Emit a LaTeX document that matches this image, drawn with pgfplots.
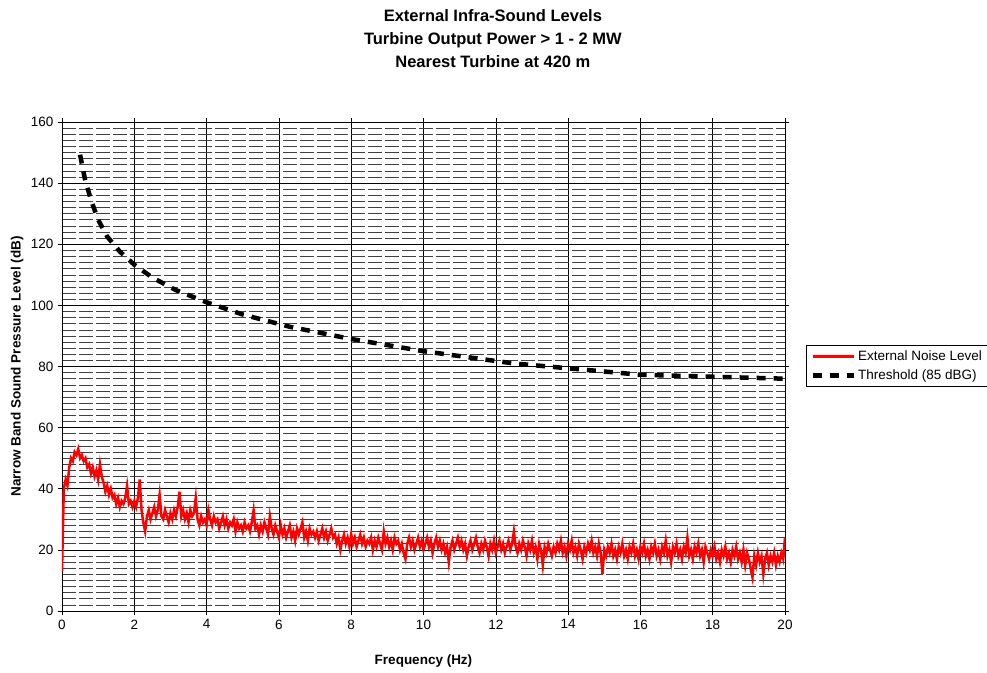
\documentclass[border=0pt]{standalone}
\usepackage{fontspec}
\setmainfont{Liberation Sans}
\usepackage{pgfplots}
\pgfplotsset{compat=1.18}

\begin{document}
\fontsize{13.5}{16}\selectfont
\begin{tikzpicture}
\begin{axis}[
    scale only axis,
    width=723pt, height=489pt,
    xmin=0, xmax=20, ymin=0, ymax=160,
    xtick={0,2,...,20}, ytick={0,20,...,160},
    minor ytick={2,4,...,158},
    grid=both,
    major grid style={black, line width=0.6pt},
    minor grid style={black!75, line width=0.6pt, dash pattern=on 14pt off 3pt},
    axis line style={black, line width=0.8pt},
    tick align=outside, major tick length=4pt, minor tick length=0pt,
    tick style={black, line width=0.6pt},
    /pgf/number format/assume math mode=true,
    ticklabel style={font=\fontsize{13.5}{16}\selectfont},
    xlabel={\textbf{Frequency (Hz)}},
    ylabel={\textbf{Narrow Band Sound Pressure Level (dB)}},
    xlabel style={at={(axis description cs:0.5,-0.102)}, anchor=center},
    ylabel style={at={(axis description cs:-0.062,0.5)}, anchor=center},
    title={\textbf{External Infra-Sound Levels}\\\textbf{Turbine Output Power > 1 - 2 MW}\\\textbf{Nearest Turbine at 420 m}},
    title style={align=center, font=\fontsize{16.5}{23}\selectfont, at={(axis description cs:0.596,1.159)}, anchor=center},
    legend style={at={(axis description cs:1.029,0.501)}, anchor=west, draw=black, line width=0.6pt,
        font=\fontsize{13.5}{16}\selectfont, row sep=3pt, inner xsep=4pt, inner ysep=3pt},
    legend cell align=left,
    legend image code/.code={\draw[#1] (0cm,0cm) -- (1.45cm,0cm);},
]
\addplot[red, line width=2.5pt] coordinates {
(0,13) (0.05,40) (0.1,43) (0.15,41) (0.2,47) (0.25,50) (0.3,49) (0.35,52) (0.4,51) (0.45,53)
(0.5,50) (0.55,51) (0.6,49) (0.65,50) (0.7,47) (0.75,48) (0.8,45) (0.85,47) (0.9,44) (0.95,46)
(1.0,43) (1.05,48) (1.1,44) (1.15,42) (1.2,39) (1.25,41) (1.3,38) (1.35,40) (1.4,37) (1.45,38)
(1.5,35) (1.55,37) (1.6,34) (1.65,36) (1.7,35) (1.75,37) (1.8,41) (1.85,35) (1.9,36) (1.95,34)
(2.0,36) (2.05,34) (2.1,37) (2.15,43) (2.2,33) (2.25,29) (2.3,26) (2.35,31) (2.4,33) (2.45,30)
(2.5,32) (2.55,34) (2.6,31) (2.65,33) (2.7,38) (2.75,31) (2.8,30) (2.85,33) (2.9,31) (2.95,29)
(3.0,32) (3.05,30) (3.1,33) (3.15,31) (3.2,34) (3.25,39) (3.3,31) (3.35,33) (3.4,30) (3.45,32)
(3.5,29) (3.55,33) (3.6,31) (3.65,32) (3.7,37) (3.75,30) (3.8,28) (3.85,31) (3.9,29) (3.95,30)
(4.0,28) (4.05,33) (4.1,30) (4.15,28) (4.2,31) (4.25,29) (4.3,30) (4.35,27) (4.4,29) (4.45,31)
(4.5,28) (4.55,30) (4.6,27) (4.65,29) (4.7,28) (4.75,30) (4.8,26) (4.85,29) (4.9,27) (4.95,28)
(5.0,26) (5.05,29) (5.1,27) (5.15,28) (5.2,26) (5.25,29) (5.3,33) (5.35,27) (5.4,28) (5.45,25)
(5.5,28) (5.55,26) (5.6,29) (5.65,27) (5.7,25) (5.75,31) (5.8,27) (5.85,25) (5.9,28) (5.95,26)
(6.0,24) (6.05,28) (6.1,25) (6.15,27) (6.2,24) (6.25,26) (6.3,28) (6.35,24) (6.4,26) (6.45,23)
(6.5,27) (6.55,25) (6.6,27) (6.65,29) (6.7,24) (6.75,26) (6.8,23) (6.85,27) (6.9,25) (6.95,26)
(7.0,24) (7.05,26) (7.1,23) (7.15,25) (7.2,27) (7.25,24) (7.3,26) (7.35,23) (7.4,25) (7.45,27)
(7.5,24) (7.55,25) (7.6,22) (7.65,24) (7.7,20) (7.75,23) (7.8,25) (7.85,22) (7.9,24) (7.95,21)
(8.0,25) (8.05,22) (8.1,24) (8.15,21) (8.2,23) (8.25,25) (8.3,22) (8.35,24) (8.4,21) (8.45,23)
(8.5,22) (8.55,24) (8.6,20) (8.65,23) (8.7,21) (8.75,24) (8.8,22) (8.85,20) (8.9,26) (8.95,22)
(9.0,24) (9.05,21) (9.1,23) (9.15,20) (9.2,24) (9.25,22) (9.3,23) (9.35,20) (9.4,22) (9.45,19)
(9.5,17) (9.55,22) (9.6,24) (9.65,21) (9.7,23) (9.75,20) (9.8,22) (9.85,24) (9.9,21) (9.95,23)
(10.0,20) (10.05,22) (10.1,24) (10.15,21) (10.2,23) (10.25,19) (10.3,22) (10.35,24) (10.4,21) (10.45,23)
(10.5,20) (10.55,22) (10.6,19) (10.65,21) (10.7,16) (10.75,21) (10.8,23) (10.85,20) (10.9,22) (10.95,24)
(11.0,21) (11.05,23) (11.1,20) (11.15,22) (11.2,18) (11.25,21) (11.3,23) (11.35,20) (11.4,22) (11.45,24)
(11.5,21) (11.55,19) (11.6,22) (11.65,20) (11.7,23) (11.75,21) (11.8,18) (11.85,22) (11.9,20) (11.95,23)
(12.0,19) (12.05,21) (12.1,23) (12.15,20) (12.2,22) (12.25,19) (12.3,21) (12.35,23) (12.4,20) (12.45,22)
(12.5,26) (12.55,21) (12.6,19) (12.65,22) (12.7,20) (12.75,23) (12.8,21) (12.85,18) (12.9,22) (12.95,20)
(13.0,23) (13.05,19) (13.1,21) (13.15,17) (13.2,22) (13.25,20) (13.3,15) (13.35,21) (13.4,19) (13.45,22)
(13.5,20) (13.55,18) (13.6,21) (13.65,19) (13.7,22) (13.75,20) (13.8,23) (13.85,19) (13.9,21) (13.95,18)
(14.0,22) (14.05,20) (14.1,23) (14.15,19) (14.2,21) (14.25,18) (14.3,22) (14.35,20) (14.4,17) (14.45,21)
(14.5,19) (14.55,22) (14.6,20) (14.65,23) (14.7,19) (14.75,21) (14.8,18) (14.85,22) (14.9,19) (14.95,12)
(15.0,20) (15.05,18) (15.1,21) (15.15,19) (15.2,22) (15.25,18) (15.3,20) (15.35,17) (15.4,21) (15.45,19)
(15.5,22) (15.55,18) (15.6,20) (15.65,17) (15.7,21) (15.75,19) (15.8,22) (15.85,18) (15.9,20) (15.95,17)
(16.0,21) (16.05,19) (16.1,22) (16.15,18) (16.2,20) (16.25,17) (16.3,21) (16.35,19) (16.4,22) (16.45,18)
(16.5,20) (16.55,17) (16.6,21) (16.65,19) (16.7,23) (16.75,18) (16.8,20) (16.85,16) (16.9,21) (16.95,19)
(17.0,22) (17.05,18) (17.1,20) (17.15,17) (17.2,21) (17.25,19) (17.3,24) (17.35,18) (17.4,20) (17.45,17)
(17.5,21) (17.55,19) (17.6,22) (17.65,18) (17.7,20) (17.75,16) (17.8,21) (17.85,19) (17.9,17) (17.95,20)
(18.0,18) (18.05,21) (18.1,17) (18.15,19) (18.2,16) (18.25,20) (18.3,18) (18.35,21) (18.4,17) (18.45,19)
(18.5,16) (18.55,20) (18.6,18) (18.65,21) (18.7,17) (18.75,19) (18.8,16) (18.85,20) (18.9,15) (18.95,19)
(19.0,17) (19.05,14) (19.1,11) (19.15,18) (19.2,15) (19.25,19) (19.3,16) (19.35,18) (19.4,12) (19.45,17)
(19.5,19) (19.55,15) (19.6,18) (19.65,16) (19.7,19) (19.75,15) (19.8,18) (19.85,16) (19.9,19) (19.95,17)
(20.0,24)
};
\addlegendentry{External Noise Level}
\addplot[black, line width=4.5pt, dash pattern=on 9pt off 8pt] coordinates {
(0.5,149.3) (0.63,141.6) (0.8,134.5) (1.0,128) (1.25,122.5) (1.6,117.6) (2.0,113.3)
(2.5,109.1) (3.15,105) (4.0,101) (5.0,97) (6.3,93) (8.0,89) (10.0,85) (12.5,81)
(16.0,77.3) (20.0,76)
};
\addlegendentry{Threshold (85 dBG)}
\end{axis}
\pgfresetboundingbox
\path ([shift={(-62pt,-62pt)}]current axis.south west) rectangle ([shift={(202pt,122pt)}]current axis.north east);
\end{tikzpicture}
\end{document}
